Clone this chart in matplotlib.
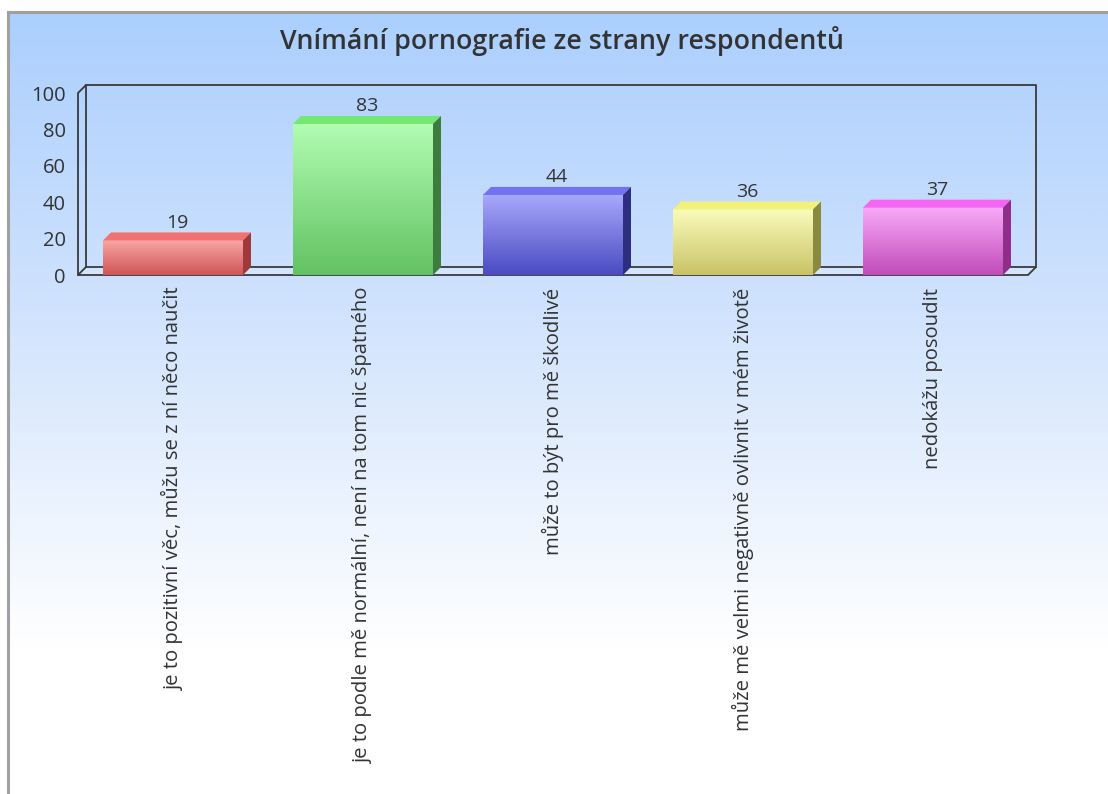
import numpy as np
import matplotlib.pyplot as plt
from matplotlib.colors import LinearSegmentedColormap
from matplotlib.patches import Polygon

plt.rcParams['font.family'] = ['Open Sans', 'DejaVu Sans']

# data
categories = ["je to pozitivní věc, můžu se z ní něco naučit",
              "je to podle mě normální, není na tom nic špatného",
              "může to být pro mě škodlivé",
              "může mě velmi negativně ovlivnit v mém životě",
              "nedokážu posoudit"]
values = [19, 83, 44, 36, 37]
title = "Vnímání pornografie ze strany respondentů"

# front gradient top/bottom, top face, side face
bar_top = ['#f9a5a5', '#b2fdb2', '#a9a9fd', '#fafcbc', '#f9aaf9']
bar_bot = ['#cf5656', '#62c262', '#4a4ac2', '#c9c266', '#c14bba']
bar_cap = ['#f27272', '#74e874', '#7272f2', '#f2f27a', '#f266f2']
bar_side = ['#9e3a3a', '#3c7c3c', '#2e2e80', '#8a8a3e', '#8e2e8a']

W, H = 1108, 794
fig = plt.figure(figsize=(W / 100, H / 100), dpi=100)

# background with gradient and grey frame
bg = fig.add_axes([0, 0, 1, 1])
bg.set_xlim(0, W)
bg.set_ylim(H, 0)
bg.axis('off')
grad = np.linspace(0, 1, 400).reshape(-1, 1)
grad_cmap = LinearSegmentedColormap.from_list('bgc', [(0, '#abcffd'), (0.45, '#cfe2fd'),
                                                     (1, '#ffffff')])
bg.imshow(grad, cmap=grad_cmap, extent=[8, W, 650, 12], aspect='auto', zorder=0)
bg.add_patch(plt.Rectangle((8, 650), W - 8, H - 650, color='white', zorder=0))
bg.plot([8, W], [12, 12], color='#a0a0a0', lw=2.2, zorder=2)
bg.plot([8, 8], [12, H], color='#a0a0a0', lw=2.2, zorder=2)
bg.text(562, 41, title, ha='center', va='center', fontsize=19.3,
        fontweight='semibold', color='#333333')

# plot area (front plane)
left, right, top, bottom = 78, 1028, 93, 275
ax = fig.add_axes([left / W, 1 - bottom / H, (right - left) / W, (bottom - top) / H])
ax.patch.set_visible(False)
for s in ax.spines.values():
    s.set_visible(False)

x = np.arange(len(values))
xmin, xmax = -0.5, len(values) - 0.5
ax.set_xlim(xmin, xmax)
ax.set_ylim(0, 100)

# pixel depth converted to data units
dpx, dpy = 8, 8
dx = dpx * (xmax - xmin) / (right - left)
dy = dpy * 100 / (bottom - top)

lc = '#3a3a3a'
# floor
ax.add_patch(Polygon([(xmin, 0), (xmax, 0), (xmax + dx, dy), (xmin + dx, dy)],
                     closed=True, fc='#d3e5fd', ec=lc, lw=1.3, clip_on=False, zorder=1))
# back wall
ax.plot([xmin + dx, xmin + dx, xmax + dx, xmax + dx], [dy, 100 + dy, 100 + dy, dy],
        color=lc, lw=1.3, clip_on=False, zorder=1)
# front left edge and top diagonal
ax.plot([xmin, xmin, xmin + dx], [0, 100, 100 + dy], color=lc, lw=1.3,
        clip_on=False, zorder=1)

bw = 140 / 190
for i, v in enumerate(values):
    x0, x1 = x[i] - bw / 2, x[i] + bw / 2
    cm = LinearSegmentedColormap.from_list('b%d' % i, [bar_bot[i], bar_top[i]])
    ax.imshow(grad[::-1], cmap=cm, extent=[x0, x1, 0, v], aspect='auto',
              zorder=3, clip_on=False)
    ax.add_patch(Polygon([(x0, v), (x1, v), (x1 + dx, v + dy), (x0 + dx, v + dy)],
                         closed=True, fc=bar_cap[i], ec='none', zorder=3, clip_on=False))
    ax.add_patch(Polygon([(x1, 0), (x1 + dx, dy), (x1 + dx, v + dy), (x1, v)],
                         closed=True, fc=bar_side[i], ec='none', zorder=3, clip_on=False))
    ax.annotate(str(v), (x[i] + dx / 2, v + dy), xytext=(0, 0.5), textcoords='offset points',
                ha='center', va='bottom', fontsize=14, color='#333333')

ax.set_xlim(xmin, xmax)
ax.set_ylim(0, 100)
ax.set_yticks([0, 20, 40, 60, 80, 100])
ax.tick_params(axis='y', length=0, pad=9, labelsize=14.5, labelcolor='#333333')
ax.set_xticks(x)
ax.set_xticklabels(categories, rotation=90, fontsize=14.6, color='#333333')
ax.tick_params(axis='x', length=0, pad=9)

fig.savefig('out.png', dpi=100)
